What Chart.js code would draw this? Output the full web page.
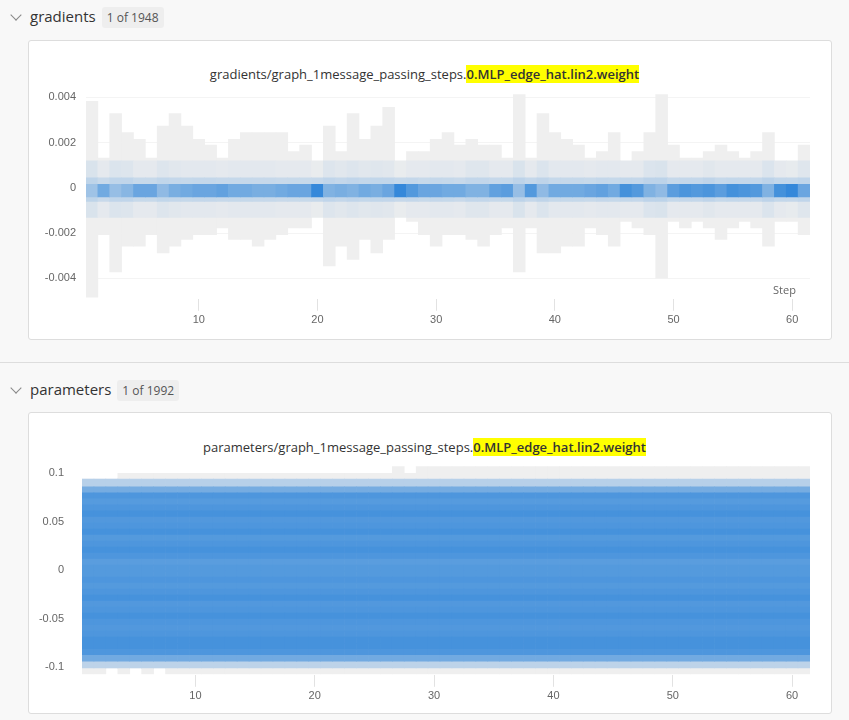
<!DOCTYPE html>
<html>
<head>
<meta charset="utf-8">
<script src="https://cdn.jsdelivr.net/npm/chart.js@4.4.0/dist/chart.umd.min.js"></script>
<style>
  body { margin: 0; background: #f8f8f8; font-family: "Open Sans", "Noto Sans", sans-serif; color: #333; }
  .hdr { position: absolute; left: 8px; font-size: 15px; color: #333; }
  .hdr .chev { display: inline-block; width: 7px; height: 7px; border-right: 1.5px solid #888; border-bottom: 1.5px solid #888; transform: rotate(45deg); margin: 0 10px 3px 4px; }
  .hdr .badge { font-size: 12px; background: #eee; color: #555; padding: 2px 5px; border-radius: 3px; margin-left: 6px; }
  .panel { position: absolute; left: 28px; width: 802px; background: #fff; border: 1px solid #ddd; border-radius: 3px; }
  .title { position: absolute; left: 0; right: 0; text-align: center; font-size: 13px; color: #333; }
  .title b { background: #ffff00; font-weight: 600; }
  .sep { position: absolute; left: 0; width: 849px; top: 362px; border-top: 1px solid #ddd; }
  .cw { position: absolute; }
  .step { position: absolute; left: 773px; top: 282px; font-size: 11px; color: #666; }
</style>
</head>
<body>
<div class="hdr" style="top:6px"><span class="chev"></span>gradients<span class="badge">1 of 1948</span></div>
<div class="panel" style="top:40px;height:298px"></div>
<div class="title" style="top:65px">gradients/graph_1message_passing_steps.<b>0.MLP_edge_hat.lin2.weight</b></div>
<div class="cw" style="left:38px;top:74px;width:780px;height:256px"><canvas id="grad"></canvas></div>
<div class="step">Step</div>
<div class="sep"></div>
<div class="hdr" style="top:379px"><span class="chev"></span>parameters<span class="badge">1 of 1992</span></div>
<div class="panel" style="top:412px;height:300px"></div>
<div class="title" style="top:438px">parameters/graph_1message_passing_steps.<b>0.MLP_edge_hat.lin2.weight</b></div>
<div class="cw" style="left:38px;top:449px;width:780px;height:257px"><canvas id="param"></canvas></div>
<script>
// pasos
const steps = Array.from({length: 61}, (_, i) => String(i + 1));

// gradientes: rango por paso (valores en 1e-3)
const gradMax = [3.83,1.32,3.29,2.44,2.15,1.32,2.73,3.29,2.73,2.15,1.89,1.32,2.15,2.44,2.44,2.44,2.44,1.6,1.89,0.77,
  2.73,1.6,3.29,2.15,2.73,3.56,0.77,1.6,1.6,2.15,2.44,1.89,2.15,1.89,1.89,1.32,4.12,1.32,3.29,2.44,
  2.15,1.89,1.32,1.6,2.44,1.06,1.6,2.44,4.12,1.89,1.32,1.32,1.6,1.89,1.6,1.32,1.6,2.44,1.06,1.06,1.89];
const gradMin = [-4.83,-2.07,-3.71,-2.57,-2.57,-2.07,-2.87,-2.57,-2.28,-2.07,-2.07,-1.77,-2.28,-2.28,-2.57,-2.28,-2.07,-1.77,-1.77,-1.19,
  -3.45,-2.57,-3.16,-2.28,-2.87,-2.28,-1.19,-1.48,-2.07,-2.57,-2.07,-2.07,-2.28,-2.57,-2.07,-1.77,-3.71,-1.77,-2.87,-2.87,
  -2.57,-2.57,-1.77,-2.07,-2.57,-1.48,-1.77,-2.07,-3.99,-1.48,-1.77,-1.48,-1.77,-2.28,-1.77,-1.48,-1.77,-2.57,-1.48,-1.48,-2.07];
// intensidad del núcleo y de la dispersión (0..1)
const gradCore = [0.2,0.5,0.25,0.35,0.55,0.55,0.3,0.45,0.5,0.55,0.55,0.6,0.5,0.5,0.45,0.45,0.5,0.55,0.55,0.9,
  0.4,0.45,0.4,0.5,0.45,0.55,0.9,0.7,0.55,0.55,0.5,0.5,0.4,0.4,0.6,0.65,0.25,0.7,0.3,0.5,
  0.5,0.5,0.55,0.6,0.5,0.8,0.7,0.4,0.3,0.65,0.75,0.7,0.75,0.65,0.8,0.75,0.7,0.4,0.8,0.9,0.55];
const gradSpread = [0.9,0.3,0.8,0.7,0.3,0.3,0.7,0.5,0.4,0.4,0.4,0.3,0.4,0.4,0.4,0.4,0.3,0.3,0.3,0.1,
  0.7,0.5,0.7,0.5,0.6,0.5,0.1,0.3,0.3,0.4,0.4,0.3,0.6,0.6,0.3,0.3,0.9,0.3,0.8,0.4,
  0.4,0.4,0.3,0.4,0.4,0.3,0.3,0.8,0.9,0.3,0.3,0.3,0.5,0.3,0.3,0.3,0.3,0.8,0.3,0.2,0.6];
const gradTicks = [-0.004, -0.002, 0, 0.002, 0.004];

// parámetros: rango por paso
const paramMax = [0.094,0.094,0.094,0.1,0.1,0.1,0.1,0.1,0.1,0.1,0.1,0.1,0.1,0.1,0.1,0.1,0.1,0.1,0.1,0.1,
  0.1,0.1,0.1,0.1,0.1,0.1,0.107,0.1,0.107,0.107,0.107,0.107,0.107,0.107,0.107,0.107,0.107,0.107,0.107,0.107,
  0.107,0.107,0.107,0.107,0.107,0.107,0.107,0.107,0.107,0.107,0.107,0.107,0.107,0.107,0.107,0.107,0.107,0.107,0.107,0.107,0.107];
const paramMin = [-0.107,-0.107,-0.101,-0.107,-0.101,-0.107,-0.101,-0.107,-0.107,-0.107,-0.107,-0.107,-0.107,-0.107,-0.107,-0.107,-0.107,-0.107,-0.107,-0.107,
  -0.107,-0.107,-0.107,-0.107,-0.107,-0.107,-0.107,-0.107,-0.107,-0.107,-0.107,-0.107,-0.107,-0.107,-0.107,-0.107,-0.107,-0.107,-0.107,-0.107,
  -0.107,-0.107,-0.107,-0.107,-0.107,-0.107,-0.107,-0.107,-0.107,-0.107,-0.107,-0.107,-0.107,-0.107,-0.107,-0.107,-0.107,-0.107,-0.107,-0.107,-0.107];
// intensidad de cada franja de parámetros, de arriba (0.086) hacia abajo (-0.094)
const paramRows = [0.6,0.8,0.76,0.8,0.84,0.78,0.8,0.84,0.77,0.8,0.84,0.8,0.74,0.77,0.77,
  0.8,0.77,0.8,0.84,0.78,0.8,0.84,0.8,0.78,0.8,0.84,0.84,0.8,0.62];
const paramTop = 0.086, paramBottom = -0.094;
const paramTicks = [-0.1, -0.05, 0, 0.05, 0.1];

function mix(t) {
  const a = [239, 239, 239], b = [38, 128, 216];
  const c = a.map((v, i) => Math.round(v + (b[i] - v) * t));
  return 'rgb(' + c.join(',') + ')';
}
const gray = '#efefef';

// cada capa lleva su "order": la de menor order se pinta encima
let layer = 1000;
function bars(lo, hi, color) {
  return {
    data: steps.map((_, i) => [typeof lo === 'function' ? lo(i) : lo, typeof hi === 'function' ? hi(i) : hi]),
    backgroundColor: color, borderWidth: 0, barPercentage: 1, categoryPercentage: 1, grouped: false,
    order: layer--
  };
}

function xAxis() {
  return {
    grid: {
      offset: false, drawOnChartArea: false, tickLength: 12,
      color: c => (c.tick && (c.index + 1) % 10 === 0) ? '#e2e2e2' : 'rgba(0,0,0,0)'
    },
    border: { display: false },
    ticks: {
      autoSkip: false, maxRotation: 0, color: '#666', font: { size: 11 },
      callback: (v, i) => ((i + 1) % 10 === 0 ? String(i + 1) : '')
    }
  };
}
const common = {
  responsive: true, maintainAspectRatio: false, animation: false,
  plugins: { legend: { display: false }, tooltip: { enabled: false } }
};

// gradientes
const gradSets = [
  bars(i => gradMin[i] / 1000, i => gradMax[i] / 1000, gray),
  bars(-0.0013, 0.0012, gradSpread.map(s => mix(0.02 + 0.1 * s))),
  bars(-0.0006, 0.00045, gradSpread.map((s, i) => mix(0.12 + 0.12 * s + 0.08 * gradCore[i]))),
  bars(-0.0004, 0.00016, gradCore.map(c => mix(0.25 + 0.75 * c)))
];
new Chart(document.getElementById('grad'), {
  type: 'bar',
  data: { labels: steps, datasets: gradSets },
  options: Object.assign({}, common, {
    layout: { padding: { top: 2, right: 8 } },
    scales: {
      x: xAxis(),
      y: {
        min: -0.0049, max: 0.0043,
        afterFit: s => { s.width = 48; },
        afterBuildTicks: s => { s.ticks = gradTicks.map(v => ({ value: v })); },
        border: { display: false },
        grid: { color: '#f4f4f4', drawTicks: false },
        ticks: {
          color: '#666', font: { size: 11 }, padding: 10,
          callback: v => (Math.abs(v) < 1e-9 ? '0' : v.toFixed(3))
        }
      }
    }
  })
});

// parámetros
const rowH = (paramTop - paramBottom) / paramRows.length;
const paramSets = [
  bars(i => paramMin[i], i => paramMax[i], gray),
  bars(0.086, 0.094, mix(0.28)),
  bars(-0.101, -0.094, mix(0.25))
];
paramRows.forEach((t, r) => {
  const hi = paramTop - r * rowH;
  paramSets.push(bars(hi - rowH, hi, mix(t)));
});
new Chart(document.getElementById('param'), {
  type: 'bar',
  data: { labels: steps, datasets: paramSets },
  options: Object.assign({}, common, {
    layout: { padding: { top: 2, right: 8 } },
    scales: {
      x: xAxis(),
      y: {
        min: -0.108, max: 0.108,
        afterFit: s => { s.width = 44; },
        afterBuildTicks: s => { s.ticks = paramTicks.map(v => ({ value: v })); },
        border: { display: false },
        grid: { display: false },
        ticks: {
          color: '#666', font: { size: 11 }, padding: 10,
          callback: v => (Math.abs(v) < 1e-9 ? '0' : String(+v.toFixed(2)))
        }
      }
    }
  })
});
</script>
</body>
</html>
